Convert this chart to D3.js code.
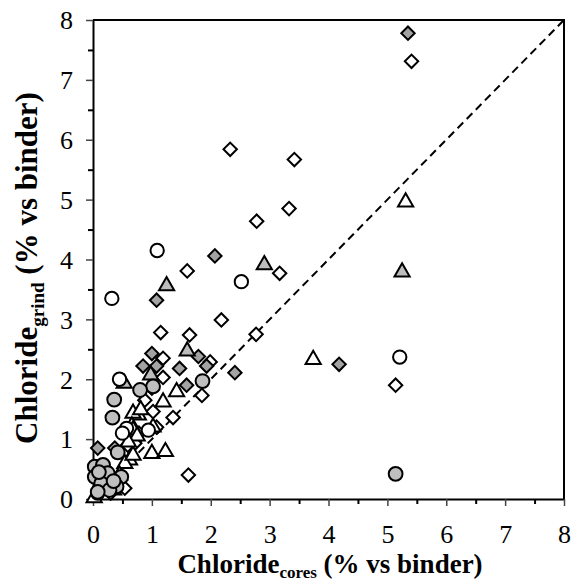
<!DOCTYPE html>
<html>
<head>
<meta charset="utf-8">
<script src="https://cdn.jsdelivr.net/npm/d3@7"></script>
<style>
  body { margin: 0; background: #fff; }
  svg text { font-family: "Liberation Serif", "Times New Roman", serif; }
</style>
</head>
<body>
<script>
// values: [chloride cores, chloride grind]
var openDiamond = [
  [5.41, 7.31], [2.33, 5.84], [3.42, 5.67], [3.33, 4.85], [2.78, 4.64],
  [1.60, 3.81], [3.17, 3.77], [2.18, 2.99], [1.15, 2.78], [1.64, 2.74],
  [2.77, 2.75], [1.19, 2.35], [1.99, 2.29], [1.19, 2.03], [1.85, 1.73],
  [0.88, 1.65], [1.02, 1.46], [1.36, 1.36], [0.70, 0.96], [1.62, 0.40],
  [5.14, 1.90], [0.54, 0.18], [1.08, 1.20], [0.59, 0.90], [0.71, 0.93],
  [0.45, 0.35], [0.30, 0.10], [0.78, 1.10]
];
var greyDiamond = [
  [5.35, 7.78], [2.07, 4.06], [1.08, 3.32], [1.00, 2.43], [1.79, 2.38],
  [1.93, 2.22], [0.85, 2.22], [1.08, 2.22], [1.47, 2.18], [2.41, 2.11],
  [1.59, 1.90], [1.00, 1.85], [4.18, 2.25], [0.08, 0.85], [0.37, 0.85],
  [0.22, 0.50], [0.30, 0.30]
];
var openTriangle = [
  [5.31, 4.96], [3.74, 2.33], [1.42, 1.79], [1.19, 1.62], [0.77, 1.40],
  [0.68, 1.43], [0.81, 1.49], [0.66, 1.22], [1.02, 1.20], [0.68, 1.15],
  [1.00, 0.76], [1.23, 0.79], [0.62, 0.65], [0.54, 0.59], [0.68, 0.73],
  [0.45, 0.40], [0.02, 0.02], [0.35, 0.15], [0.75, 1.05], [0.60, 0.95]
];
var greyTriangle = [
  [5.25, 3.79], [2.91, 3.91], [1.25, 3.56], [1.60, 2.47], [0.98, 2.07],
  [0.53, 1.93]
];
var openCircle = [
  [1.09, 4.15], [2.52, 3.63], [0.32, 3.35], [0.45, 2.00], [5.21, 2.37],
  [0.57, 1.18], [0.94, 1.15], [0.50, 1.10], [0.08, 0.10]
];
var greyCircle = [
  [5.14, 0.42], [1.86, 1.97], [1.02, 1.88], [0.80, 1.82], [0.36, 1.66],
  [0.33, 1.36], [0.42, 0.78], [0.03, 0.54], [0.17, 0.57], [0.25, 0.43],
  [0.03, 0.37], [0.48, 0.37], [0.14, 0.26], [0.40, 0.21], [0.28, 0.15],
  [0.10, 0.45], [0.35, 0.30], [0.08, 0.12]
];
var tickValues = [0, 0.5, 1, 1.5, 2, 2.5, 3, 3.5, 4, 4.5, 5, 5.5, 6, 6.5, 7, 7.5, 8];

var width = 571, height = 582;
var margin = {left: 93, right: 7, top: 20, bottom: 83};

var svg = d3.select("body").append("svg")
  .attr("width", width)
  .attr("height", height);

var x = d3.scaleLinear().domain([0, 8]).range([margin.left, width - margin.right]);
var y = d3.scaleLinear().domain([0, 8]).range([height - margin.bottom, margin.top]);

// frame on top and right
svg.append("path")
  .attr("d", "M" + x(0) + "," + y(8) + "H" + x(8) + "V" + y(0))
  .attr("fill", "none")
  .attr("stroke", "#000")
  .attr("stroke-width", 2);

var fmt = function(d) { return d % 1 === 0 ? String(d) : ""; };

var xAxis = svg.append("g")
  .attr("transform", "translate(0," + y(0) + ")")
  .call(d3.axisBottom(x).tickValues(tickValues).tickFormat(fmt).tickSize(5).tickSizeOuter(0).tickPadding(21));

var yAxis = svg.append("g")
  .attr("transform", "translate(" + x(0) + ",0)")
  .call(d3.axisLeft(y).tickValues(tickValues).tickFormat(fmt).tickSize(5).tickSizeOuter(0).tickPadding(15));

[xAxis, yAxis].forEach(function(g) {
  g.attr("font-family", "Liberation Serif").attr("font-size", 26);
  g.select(".domain").attr("stroke-width", 2);
  g.selectAll(".tick line").attr("stroke-width", 2);
  g.selectAll(".tick text")
    .attr("font-family", "Liberation Serif")
    .attr("font-size", 26)
    .attr("fill", "#000");
});
// longer, lighter ticks at whole numbers
xAxis.selectAll(".tick line").filter(function(d) { return d % 1 === 0; })
  .attr("y2", 7).attr("stroke-width", 1.5).attr("stroke", "#444");
yAxis.selectAll(".tick line").filter(function(d) { return d % 1 === 0; })
  .attr("x2", -7).attr("stroke-width", 1.5).attr("stroke", "#444");
yAxis.selectAll(".tick text").attr("dy", "0.34em");

// 1:1 line
svg.append("line")
  .attr("x1", x(0)).attr("y1", y(0))
  .attr("x2", x(8)).attr("y2", y(8))
  .attr("stroke", "#000")
  .attr("stroke-width", 2)
  .attr("stroke-dasharray", "8,5");

var plot = svg.append("g");

function drawSeries(data, type, size, fill, rotate) {
  var sym = d3.symbol().type(type).size(size);
  plot.selectAll(null)
    .data(data)
    .enter().append("path")
    .attr("d", sym)
    .attr("transform", function(d) {
      return "translate(" + x(d[0]) + "," + y(d[1]) + ")" + (rotate ? " rotate(45)" : "");
    })
    .attr("fill", fill)
    .attr("stroke", "#000")
    .attr("stroke-width", 2);
}

drawSeries(openDiamond, d3.symbolSquare, 90, "#fff", true);
drawSeries(greyDiamond, d3.symbolSquare, 90, "#a3a3a3", true);
drawSeries(openTriangle, d3.symbolTriangle, 100, "#fff", false);
drawSeries(greyTriangle, d3.symbolTriangle, 100, "#bdbdbd", false);
drawSeries(openCircle, d3.symbolCircle, 140, "#fff", false);
drawSeries(greyCircle, d3.symbolCircle, 150, "#bfbfbf", false);

// axis titles
var xt = svg.append("text")
  .attr("x", 330)
  .attr("y", 573)
  .attr("text-anchor", "middle")
  .style("font-size", "27px")
  .style("font-weight", "bold");
xt.append("tspan").text("Chloride");
xt.append("tspan").attr("dy", 5).style("font-size", "17px").text("cores");
xt.append("tspan").attr("dy", -5).text(" (% vs binder)");

var yt = svg.append("text")
  .attr("transform", "translate(37,268) rotate(-90)")
  .attr("text-anchor", "middle")
  .style("font-size", "31px")
  .style("font-weight", "bold");
yt.append("tspan").text("Chloride");
yt.append("tspan").attr("dy", 7).style("font-size", "19px").text("grind");
yt.append("tspan").attr("dy", -7).text(" (% vs binder)");
</script>
</body>
</html>
